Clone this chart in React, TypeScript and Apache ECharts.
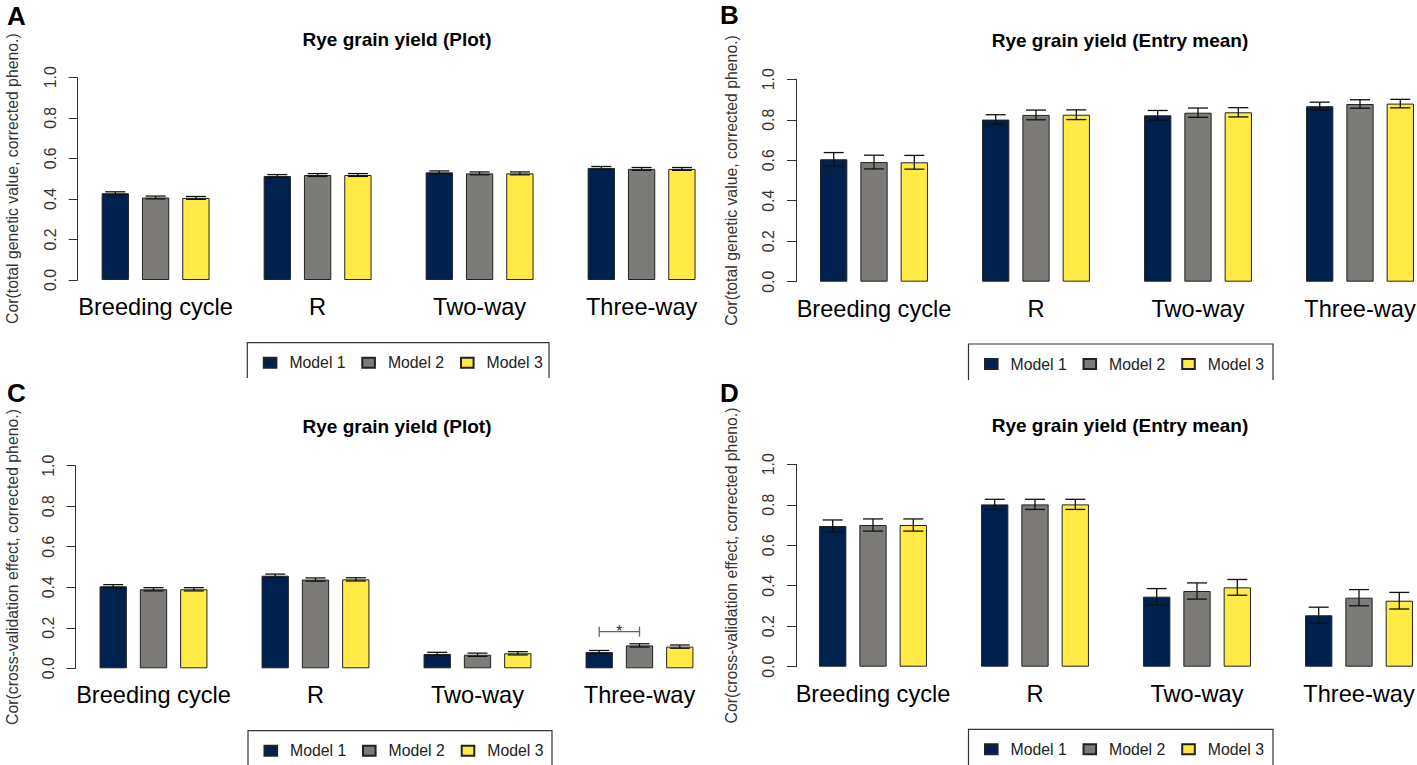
import React, { useEffect, useRef } from "react";
import * as echarts from "echarts";

// ---------- data ----------
const categories = ["Breeding cycle", "R", "Two-way", "Three-way"];
const modelNames = ["Model 1", "Model 2", "Model 3"];
const modelColors = ["#00204D", "#7C7B78", "#FFEA46"];
const yTickValues = [0, 0.2, 0.4, 0.6, 0.8, 1.0];

// Panel A: Cor(total genetic value, corrected pheno.) - Plot
const aModel1 = [0.428, 0.513, 0.531, 0.553];
const aModel2 = [0.407, 0.518, 0.526, 0.548];
const aModel3 = [0.405, 0.518, 0.526, 0.548];
const aErr1 = [0.007, 0.007, 0.007, 0.007];
const aErr2 = [0.007, 0.007, 0.007, 0.007];
const aErr3 = [0.007, 0.007, 0.007, 0.007];

// Panel B: Cor(total genetic value, corrected pheno.) - Entry mean
const bModel1 = [0.605, 0.801, 0.822, 0.867];
const bModel2 = [0.591, 0.824, 0.835, 0.878];
const bModel3 = [0.59, 0.825, 0.837, 0.88];
const bErr1 = [0.033, 0.024, 0.024, 0.02];
const bErr2 = [0.034, 0.024, 0.023, 0.021];
const bErr3 = [0.034, 0.024, 0.023, 0.021];

// Panel C: Cor(cross-validation effect, corrected pheno.) - Plot
const cModel1 = [0.405, 0.457, 0.071, 0.08];
const cModel2 = [0.39, 0.438, 0.067, 0.113];
const cModel3 = [0.39, 0.439, 0.074, 0.107];
const cErr1 = [0.008, 0.008, 0.008, 0.008];
const cErr2 = [0.008, 0.008, 0.008, 0.008];
const cErr3 = [0.008, 0.008, 0.008, 0.008];
const cSignif = [[3, 0.181]]; // [category index, bracket height]

// Panel D: Cor(cross-validation effect, corrected pheno.) - Entry mean
const dModel1 = [0.695, 0.802, 0.346, 0.254];
const dModel2 = [0.7, 0.802, 0.374, 0.341];
const dModel3 = [0.7, 0.802, 0.392, 0.326];
const dErr1 = [0.03, 0.025, 0.04, 0.04];
const dErr2 = [0.03, 0.025, 0.04, 0.04];
const dErr3 = [0.03, 0.025, 0.039, 0.041];

// ---------- layout ----------
const FONT = '"Liberation Sans", Arial, Helvetica, sans-serif';
const STEP = 162; // category band width
const BAR_W = 27.3;
const BAR_GAP = 13;
const CAP_W = 20;
const BASE_FS = 15.8;

const panels = [
  {
    letter: "A", title: "Rye grain yield (Plot)", yName: "Cor(total genetic value, corrected pheno.)",
    values: [aModel1, aModel2, aModel3], errs: [aErr1, aErr2, aErr3], signif: null,
    gridLeft: 74.6, gridTop: 77.3, gridBottom: 280, axisShift: 3,
    letterX: 7, letterY: 16, yNameX: 12, titleX: 397, titleY: 39,
    boxLeft: 247.3, boxRight: 549, boxTop: 342.7, boxBottom: 378,
  },
  {
    letter: "B", title: "Rye grain yield (Entry mean)", yName: "Cor(total genetic value, corrected pheno.)",
    values: [bModel1, bModel2, bModel3], errs: [bErr1, bErr2, bErr3], signif: null,
    gridLeft: 793, gridTop: 79.3, gridBottom: 281.7, axisShift: 3,
    letterX: 720, letterY: 15, yNameX: 731, titleX: 1120, titleY: 40,
    boxLeft: 968.5, boxRight: 1273, boxTop: 344, boxBottom: 380,
  },
  {
    letter: "C", title: "Rye grain yield (Plot)", yName: "Cor(cross-validation effect, corrected pheno.)",
    values: [cModel1, cModel2, cModel3], errs: [cErr1, cErr2, cErr3], signif: cSignif,
    gridLeft: 72.5, gridTop: 465.7, gridBottom: 668.3, axisShift: 3,
    letterX: 7, letterY: 393, yNameX: 12, titleX: 397, titleY: 426.7,
    boxLeft: 248, boxRight: 552, boxTop: 730.7, boxBottom: 770,
  },
  {
    letter: "D", title: "Rye grain yield (Entry mean)", yName: "Cor(cross-validation effect, corrected pheno.)",
    values: [dModel1, dModel2, dModel3], errs: [dErr1, dErr2, dErr3], signif: null,
    gridLeft: 792, gridTop: 464.3, gridBottom: 666.7, axisShift: 4,
    letterX: 720, letterY: 393, yNameX: 731, titleX: 1120, titleY: 425,
    boxLeft: 968.5, boxRight: 1273, boxTop: 729.3, boxBottom: 770,
  },
];

const legendOffsets = [15.5, 114, 212.7];

function buildOption() {
  const grid: any[] = [];
  const xAxis: any[] = [];
  const yAxis: any[] = [];
  const series: any[] = [];
  const legend: any[] = [];
  const graphic: any[] = [];

  panels.forEach((p, pi) => {
    grid.push({
      left: p.gridLeft,
      top: p.gridTop,
      width: STEP * categories.length,
      height: p.gridBottom - p.gridTop,
      containLabel: false,
      outerBoundsMode: "none",
    });
    xAxis.push({
      type: "category",
      gridIndex: pi,
      data: categories,
      axisLine: { show: false },
      axisTick: { show: false },
      axisLabel: {
        interval: 0,
        fontSize: 23.6,
        color: "#000",
        margin: 15,
        fontFamily: FONT,
      },
      splitLine: { show: false },
    });
    yAxis.push({
      type: "value",
      gridIndex: pi,
      min: yTickValues[0],
      max: yTickValues[yTickValues.length - 1],
      interval: 0.2,
      offset: -p.axisShift,
      axisLine: { show: true, lineStyle: { color: "#333", width: 1 } },
      axisTick: { show: true, length: 9, lineStyle: { color: "#333", width: 1 } },
      axisLabel: {
        rotate: 90,
        fontSize: BASE_FS,
        color: "#333",
        margin: 19.5,
        fontFamily: FONT,
        showMinLabel: true,
        showMaxLabel: true,
        formatter: (v: number) => v.toFixed(1),
      },
      splitLine: { show: false },
    });

    modelNames.forEach((name, mi) => {
      series.push({
        type: "bar",
        name,
        xAxisIndex: pi,
        yAxisIndex: pi,
        data: p.values[mi],
        barWidth: BAR_W,
        barGap: `${(BAR_GAP / BAR_W) * 100}%`,
        itemStyle: { color: modelColors[mi], borderColor: "#222", borderWidth: 1 },
        emphasis: { disabled: true },
      });
    });

    const errData: any[] = [];
    modelNames.forEach((_, mi) => {
      categories.forEach((_, ci) => {
        const v = p.values[mi][ci];
        const e = p.errs[mi][ci];
        errData.push([ci, v + e, v - e, mi]);
      });
    });
    series.push({
      type: "custom",
      name: "error",
      xAxisIndex: pi,
      yAxisIndex: pi,
      data: errData,
      encode: { x: 0, y: [1, 2] },
      silent: true,
      z: 5,
      renderItem: (_params: any, api: any) => {
        const ci = api.value(0);
        const hi = api.value(1);
        const lo = api.value(2);
        const mi = api.value(3);
        const top = api.coord([ci, hi]);
        const bot = api.coord([ci, lo]);
        const x = top[0] + (mi - 1) * (BAR_W + BAR_GAP);
        const h = CAP_W / 2;
        const st = { stroke: "#111", lineWidth: 1.3 };
        return {
          type: "group",
          children: [
            { type: "line", shape: { x1: x, y1: top[1], x2: x, y2: bot[1] }, style: st },
            { type: "line", shape: { x1: x - h, y1: top[1], x2: x + h, y2: top[1] }, style: st },
            { type: "line", shape: { x1: x - h, y1: bot[1], x2: x + h, y2: bot[1] }, style: st },
          ],
        };
      },
    });

    if (p.signif) {
      series.push({
        type: "custom",
        name: "signif",
        xAxisIndex: pi,
        yAxisIndex: pi,
        data: p.signif,
        encode: { x: 0, y: 1 },
        silent: true,
        z: 6,
        renderItem: (_params: any, api: any) => {
          const pt = api.coord([api.value(0), api.value(1)]);
          const x1 = pt[0] - (BAR_W + BAR_GAP);
          const x2 = pt[0];
          const y = pt[1];
          const st = { stroke: "#666", lineWidth: 1.3 };
          return {
            type: "group",
            children: [
              { type: "line", shape: { x1, y1: y, x2, y2: y }, style: st },
              { type: "line", shape: { x1, y1: y - 5, x2: x1, y2: y + 5 }, style: st },
              { type: "line", shape: { x1: x2, y1: y - 5, x2, y2: y + 5 }, style: st },
              {
                type: "text",
                x: (x1 + x2) / 2,
                y,
                style: {
                  text: "*",
                  fontSize: 16,
                  fontFamily: FONT,
                  fill: "#333",
                  align: "center",
                  verticalAlign: "middle",
                },
              },
            ],
          };
        },
      });
    }

    // legends (one per item, to match R's spacing)
    modelNames.forEach((name, mi) => {
      legend.push({
        data: [name],
        left: p.boxLeft + legendOffsets[mi],
        top: p.boxTop + 20 - 8,
        padding: 0,
        itemWidth: 12.6,
        itemHeight: 10,
        icon: "rect",
        selectedMode: false,
        textStyle: {
          fontSize: BASE_FS,
          fontFamily: FONT,
          color: "#222",
          lineHeight: 16,
          padding: [0, 0, 0, 8],
        },
      });
    });

    // legend box (bottom edge is cropped off in the figure)
    graphic.push({
      type: "polyline",
      silent: true,
      shape: {
        points: [
          [p.boxLeft, p.boxBottom],
          [p.boxLeft, p.boxTop],
          [p.boxRight, p.boxTop],
          [p.boxRight, p.boxBottom],
        ],
      },
      style: { stroke: "#333", lineWidth: 1.2, fill: null },
    });

    // panel letter
    graphic.push({
      type: "text",
      x: p.letterX,
      y: p.letterY,
      style: {
        text: p.letter,
        fontSize: 26,
        fontWeight: "bold",
        fontFamily: FONT,
        fill: "#000",
        align: "left",
        verticalAlign: "middle",
      },
    });

    // title
    graphic.push({
      type: "text",
      x: p.titleX,
      y: p.titleY,
      style: {
        text: p.title,
        fontSize: 19,
        fontWeight: "bold",
        fontFamily: FONT,
        fill: "#000",
        align: "center",
        verticalAlign: "middle",
      },
    });

    // y-axis title
    graphic.push({
      type: "text",
      x: p.yNameX,
      y: (p.gridTop + p.gridBottom) / 2,
      rotation: Math.PI / 2,
      style: {
        text: p.yName,
        fontSize: BASE_FS,
        fontFamily: FONT,
        fill: "#333",
        align: "center",
        verticalAlign: "middle",
      },
    });
  });

  return {
    animation: false,
    backgroundColor: "#fff",
    textStyle: { fontFamily: FONT },
    grid,
    xAxis,
    yAxis,
    legend,
    series,
    graphic,
  };
}

export default function App() {
  const ref = useRef<HTMLDivElement | null>(null);
  useEffect(() => {
    if (!ref.current) return;
    const chart = echarts.init(ref.current, undefined, { renderer: "svg" });
    chart.setOption(buildOption() as any);
    return () => chart.dispose();
  }, []);
  return (
    <div
      ref={ref}
      style={{ position: "absolute", left: 0, top: 0, width: 1417, height: 765, background: "#fff" }}
    />
  );
}
